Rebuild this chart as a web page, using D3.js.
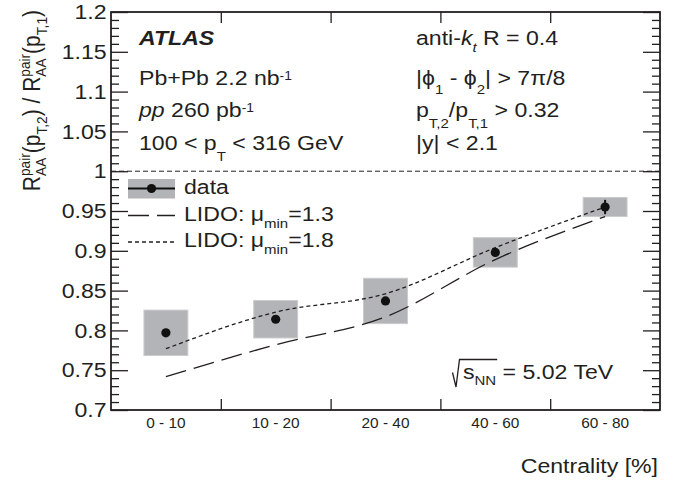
<!DOCTYPE html>
<html>
<head>
  <meta charset="UTF-8">
  <title>RAA pair ratio vs centrality</title>
  <script src="https://d3js.org/d3.v7.min.js"></script>
  <style>
    body { margin: 0; background: #fff; }
    svg { font-family: "Liberation Sans", Arial, Helvetica, sans-serif; }
    text { fill: #231f20; }
    .axis line { stroke: #231f20; stroke-width: 1.3; }
  </style>
</head>
<body>
  <svg width="691" height="482"></svg>

  <script>
    const categories = ["0 - 10", "10 - 20", "20 - 40", "40 - 60", "60 - 80"];
    const dataValues = [0.797, 0.814, 0.837, 0.898, 0.955];
    const statErr = [0.003, 0.003, 0.003, 0.005, 0.009];
    const sysErr = [0.0285, 0.0235, 0.0285, 0.0185, 0.012];
    const lido13 = [0.742, 0.782, 0.817, 0.889, 0.943];
    const lido18 = [0.777, 0.823, 0.846, 0.904, 0.955];
    const yTicks = [0.7, 0.75, 0.8, 0.85, 0.9, 0.95, 1, 1.05, 1.1, 1.15, 1.2];

    const svg = d3.select("svg");
    const margin = { top: 12, right: 31, bottom: 72, left: 111 };
    const width = svg.attr("width") - margin.left - margin.right;
    const height = svg.attr("height") - margin.top - margin.bottom;
    const fs = 21, sx = 1.1;  // text size and horizontal stretch of the original

    const yScale = d3.scaleLinear().domain([0.7, 1.2]).range([height, 0]);
    const xBand = d3.scaleBand().domain(categories).range([0, width]);
    const xEdge = d3.scaleLinear().domain([0, categories.length]).range([0, width]);
    const bw = xBand.bandwidth();
    const cx = i => xBand(categories[i]) + bw / 2;

    // text with sub/superscripts, pieces laid out one after another
    function rich(parent, x, y, parts, size, transform) {
      const g = parent.append("g")
        .attr("transform", transform || `translate(${x},${y}) scale(${sx},1)`);
      let pos = 0, pending = 0;
      parts.forEach(p => {
        const small = p.sup || p.sub;
        const dy = p.dy !== undefined ? p.dy : p.sup ? -0.45 : p.sub ? 0.45 : 0;
        const t = g.append("text")
          .attr("x", pos)
          .attr("y", dy * size)
          .attr("font-size", size * (p.s || (small ? 0.65 : 1)))
          .style("white-space", "pre")
          .text(p.t);
        if (p.it) t.attr("font-style", "italic");
        if (p.b) t.attr("font-weight", "bold");
        const w = t.node().getComputedTextLength();
        if (p.stack) pending = Math.max(pending, w);
        else { pos += Math.max(w, pending); pending = 0; }
      });
      return { g, w: pos };
    }

    const g = svg.append("g")
      .attr("transform", `translate(${margin.left},${margin.top})`);

    // systematic boxes
    g.selectAll(".sys")
      .data(dataValues)
      .enter().append("rect")
      .attr("class", "sys")
      .attr("x", (d, i) => xBand(categories[i]) + bw * 0.3)
      .attr("width", bw * 0.4)
      .attr("y", (d, i) => yScale(d + sysErr[i]))
      .attr("height", (d, i) => yScale(d - sysErr[i]) - yScale(d + sysErr[i]))
      .attr("fill", "#b3b4b7")
      .attr("stroke", "#cacbcd")
      .attr("stroke-width", 1);

    // unity line
    g.append("line")
      .attr("x1", 0).attr("x2", width)
      .attr("y1", yScale(1)).attr("y2", yScale(1))
      .attr("stroke", "#231f20").attr("stroke-width", 1)
      .attr("stroke-dasharray", "5,3");

    const line = d3.line()
      .x((d, i) => cx(i))
      .y(d => yScale(d))
      .curve(d3.curveMonotoneX);

    g.append("path").datum(lido13)
      .attr("d", line)
      .attr("fill", "none").attr("stroke", "#231f20").attr("stroke-width", 1.3)
      .attr("stroke-dasharray", "21,8");

    g.append("path").datum(lido18)
      .attr("d", line)
      .attr("fill", "none").attr("stroke", "#231f20").attr("stroke-width", 1.3)
      .attr("stroke-dasharray", "4,3");

    // data with stat errors
    g.selectAll(".stat")
      .data(dataValues)
      .enter().append("line")
      .attr("x1", (d, i) => cx(i)).attr("x2", (d, i) => cx(i))
      .attr("y1", (d, i) => yScale(d - statErr[i]))
      .attr("y2", (d, i) => yScale(d + statErr[i]))
      .attr("stroke", "#111").attr("stroke-width", 2);

    g.selectAll(".pt")
      .data(dataValues)
      .enter().append("circle")
      .attr("cx", (d, i) => cx(i))
      .attr("cy", d => yScale(d))
      .attr("r", 4.6)
      .attr("fill", "#111");

    // axes: ticks inside the frame
    const minors = d3.range(70, 121).map(v => v / 100).filter(v => Math.round(v * 100) % 5 !== 0);

    const yAx = g.append("g").attr("class", "axis")
      .call(d3.axisLeft(yScale).tickValues(yTicks).tickSize(-17).tickPadding(4)
        .tickFormat(d3.format("")));
    yAx.selectAll("text")
      .attr("font-size", fs)
      .attr("transform", `scale(${sx},1)`);
    g.append("g").attr("class", "axis")
      .call(d3.axisLeft(yScale).tickValues(minors).tickSize(-8).tickFormat(""));
    g.append("g").attr("class", "axis")
      .attr("transform", `translate(${width},0)`)
      .call(d3.axisRight(yScale).tickValues(yTicks).tickSize(-17).tickFormat(""));
    g.append("g").attr("class", "axis")
      .attr("transform", `translate(${width},0)`)
      .call(d3.axisRight(yScale).tickValues(minors).tickSize(-8).tickFormat(""));

    g.append("g").attr("class", "axis")
      .attr("transform", `translate(0,${height})`)
      .call(d3.axisBottom(xEdge).tickValues([1, 2, 3, 4]).tickSize(-11).tickFormat(""));
    g.append("g").attr("class", "axis")
      .call(d3.axisTop(xEdge).tickValues([1, 2, 3, 4]).tickSize(-11).tickFormat(""));

    const xLab = g.append("g").attr("class", "axis")
      .attr("transform", `translate(0,${height})`)
      .call(d3.axisBottom(xBand).tickSize(0).tickPadding(8));
    xLab.selectAll("text")
      .attr("font-size", 14)
      .attr("transform", `scale(${sx},1)`);

    g.selectAll(".axis .domain").remove();

    g.append("rect")
      .attr("width", width).attr("height", height)
      .attr("fill", "none").attr("stroke", "#231f20").attr("stroke-width", 1.8);

    // axis titles
    svg.append("text")
      .attr("text-anchor", "end")
      .attr("font-size", fs)
      .attr("transform", `translate(658,473) scale(${sx},1)`)
      .text("Centrality [%]");

    const yt = rich(svg, 0, 0, [
      { t: "R" }, { t: "pair", sup: 1, stack: 1 }, { t: "AA", sub: 1, dy: 0.25 },
      { t: "(p" }, { t: "T,2", sub: 1, dy: 0.3 }, { t: ") / R" },
      { t: "pair", sup: 1, stack: 1 }, { t: "AA", sub: 1, dy: 0.25 },
      { t: "(p" }, { t: "T,1", sub: 1, dy: 0.3 }, { t: ")" }
    ], fs, "translate(0,0)");
    yt.g.attr("transform", `translate(40,${10 + yt.w}) rotate(-90) scale(1,${sx})`);

    // labels inside the frame
    rich(svg, 139, 45, [{ t: "ATLAS", b: 1, it: 1 }], fs);
    rich(svg, 139, 85, [{ t: "Pb+Pb 2.2 nb" }, { t: "-1", sup: 1, s: 0.6, dy: -0.22 }], fs);
    rich(svg, 139, 117, [{ t: "pp", it: 1 }, { t: " 260 pb" }, { t: "-1", sup: 1, s: 0.6, dy: -0.22 }], fs);
    rich(svg, 139, 150, [{ t: "100 < p" }, { t: "T", sub: 1, dy: 0.54 }, { t: " < 316 GeV" }], fs);

    rich(svg, 416, 45, [{ t: "anti-" }, { t: "k", it: 1 }, { t: "t", sub: 1, it: 1, dy: 0.33 }, { t: " R = 0.4" }], fs);
    rich(svg, 416, 85, [{ t: "|ϕ" }, { t: "1", sub: 1, dy: 0.42 }, { t: " - ϕ" }, { t: "2", sub: 1, dy: 0.42 }, { t: "| > 7π/8" }], fs);
    rich(svg, 416, 117, [{ t: "p" }, { t: "T,2", sub: 1, dy: 0.52 }, { t: "/p" }, { t: "T,1", sub: 1, dy: 0.52 }, { t: " > 0.32" }], fs);
    rich(svg, 416, 150, [{ t: "|y| < 2.1" }], fs);

    const sqrtPart = rich(svg, 463, 379, [{ t: "s" }, { t: "NN", sub: 1, dy: 0.3 }], fs);
    const sEnd = 463 + sqrtPart.w * sx;
    rich(svg, sEnd, 379, [{ t: " = 5.02 TeV" }], fs);
    svg.append("path")
      .attr("d", `M452.5,372.5 L456,387 L459.5,359.5 H${sEnd + 1}`)
      .attr("fill", "none").attr("stroke", "#231f20").attr("stroke-width", 1.3);

    // legend
    const lx = margin.left + 17, lw = 47;
    svg.append("rect")
      .attr("x", lx).attr("y", 179).attr("width", lw).attr("height", 19.5)
      .attr("fill", "#b3b4b7");
    svg.append("line")
      .attr("x1", lx).attr("x2", lx + lw).attr("y1", 188.5).attr("y2", 188.5)
      .attr("stroke", "#111").attr("stroke-width", 2);
    svg.append("circle")
      .attr("cx", lx + lw / 2).attr("cy", 188.5).attr("r", 4.6).attr("fill", "#111");
    svg.append("line")
      .attr("x1", lx).attr("x2", lx + lw).attr("y1", 215.5).attr("y2", 215.5)
      .attr("stroke", "#231f20").attr("stroke-width", 1.3).attr("stroke-dasharray", "21,8");
    svg.append("line")
      .attr("x1", lx).attr("x2", lx + lw).attr("y1", 242).attr("y2", 242)
      .attr("stroke", "#231f20").attr("stroke-width", 1.3).attr("stroke-dasharray", "4,3");

    rich(svg, 184, 194, [{ t: "data" }], fs);
    rich(svg, 184, 221, [{ t: "LIDO: μ" }, { t: "min", sub: 1, dy: 0.32 }, { t: "=1.3" }], fs);
    rich(svg, 184, 247, [{ t: "LIDO: μ" }, { t: "min", sub: 1, dy: 0.32 }, { t: "=1.8" }], fs);
  </script>
</body>
</html>
